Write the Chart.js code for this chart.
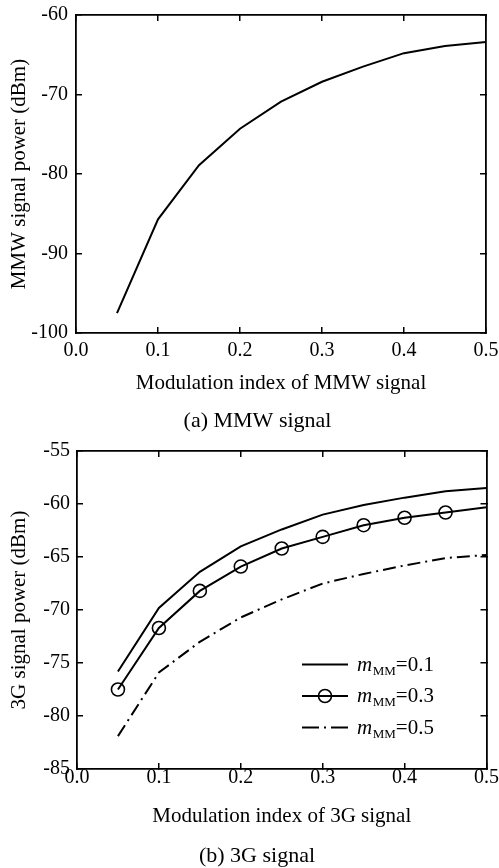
<!DOCTYPE html>
<html><head><meta charset="utf-8">
<script src="https://cdn.jsdelivr.net/npm/chart.js@4.4.1/dist/chart.umd.min.js"></script>
<style>
html,body{margin:0;padding:0;background:#fff;}
#wrap{position:relative;width:499px;height:868px;overflow:hidden;background:#fff;}
canvas{position:absolute;left:0;}
</style></head><body>
<div id="wrap">
<canvas id="c1" width="499" height="440" style="top:0px"></canvas>
<canvas id="c2" width="499" height="428" style="top:440px"></canvas>
</div>
<script>
// ---- data ----
const modIndex = [0.05, 0.10, 0.15, 0.20, 0.25, 0.30, 0.35, 0.40, 0.45, 0.50];
const mmwPower = [-97.5, -85.7, -78.9, -74.3, -70.9, -68.4, -66.5, -64.8, -63.9, -63.4];
const g3Power_m01 = [-75.8, -69.8, -66.4, -64.0, -62.4, -61.0, -60.1, -59.4, -58.8, -58.5];
const g3Power_m03 = [-77.5, -71.7, -68.2, -65.9, -64.2, -63.1, -62.0, -61.3, -60.8, -60.3];
const g3Power_m05 = [-81.9, -75.9, -73.0, -70.7, -69.0, -67.5, -66.6, -65.8, -65.1, -64.8];
const xTicks = [0, 0.1, 0.2, 0.3, 0.4, 0.5];
const yTicksMMW = [-100, -90, -80, -70, -60];
const yTicks3G = [-85, -80, -75, -70, -65, -60, -55];
const legendValues = ['0.1', '0.3', '0.5'];

const SERIF = "'Liberation Serif','Times New Roman',serif";
Chart.defaults.font.family = SERIF;
Chart.defaults.color = '#000';

function pts(ys){ return modIndex.map((x,i)=>({x:x, y:ys[i]})); }

function setTicks(arr){ return s => { s.ticks = arr.map(v=>({value:v})); }; }

function xAxis(arr, title, o){
  return {
    type:'linear', position:'bottom', min:arr[0], max:arr[arr.length-1],
    afterBuildTicks:setTicks(arr),
    afterFit:s=>{ s.height=o.height; s.paddingLeft=0; s.paddingRight=0; },
    grid:{drawOnChartArea:false, drawTicks:true, tickLength:-6, color:'#000', lineWidth:1.5},
    border:{display:true, color:'#000', width:1.8},
    ticks:{padding:o.tickPad, autoSkip:false, maxRotation:0, color:'#000',
      font:{family:SERIF, size:20, lineHeight:1.2}, callback:v=>Number(v).toFixed(1)},
    title:{display:true, text:title, color:'#000', font:{family:SERIF, size:21, lineHeight:1.2},
      padding:{top:0, bottom:o.titlePad}}
  };
}
function yAxis(arr, title, o){
  return {
    type:'linear', position:'left', min:arr[0], max:arr[arr.length-1],
    afterBuildTicks:setTicks(arr),
    afterFit:s=>{ s.width=o.width; s.paddingTop=0; s.paddingBottom=0; },
    grid:{drawOnChartArea:false, drawTicks:true, tickLength:-6, color:'#000', lineWidth:1.5},
    border:{display:true, color:'#000', width:1.8},
    ticks:{padding:o.tickPad, autoSkip:false, color:'#000',
      font:{family:SERIF, size:20, lineHeight:1.2}, callback:v=>String(v)},
    title:{display:true, text:title, color:'#000', font:{family:SERIF, size:21, lineHeight:1.2},
      padding:{top:7, bottom:0}}
  };
}
function mirror(axis, pos, arr){
  return {
    type:'linear', axis:axis, position:pos, min:arr[0], max:arr[arr.length-1],
    afterBuildTicks:setTicks(arr),
    afterFit:s=>{ if(axis==='x'){ s.height=0; } else { s.width=0; } s.paddingLeft=0; s.paddingRight=0; s.paddingTop=0; s.paddingBottom=0; },
    grid:{drawOnChartArea:false, drawTicks:true, tickLength:-6, color:'#000', lineWidth:1.5},
    border:{display:true, color:'#000', width:1.8},
    ticks:{display:false}
  };
}
function captionPlugin(text, x, y){
  return {
    id:'caption',
    afterDraw(chart){
      const ctx = chart.ctx;
      ctx.save();
      ctx.fillStyle = '#000';
      ctx.font = '22px ' + SERIF;
      ctx.textAlign = 'center';
      ctx.textBaseline = 'middle';
      ctx.fillText(text, x, y);
      ctx.restore();
    }
  };
}

// ---- chart (a) ----
new Chart(document.getElementById('c1'), {
  type:'line',
  data:{datasets:[{
    label:'MMW', data:pts(mmwPower), borderColor:'#000', borderWidth:2, pointRadius:0, tension:0, fill:false
  }]},
  options:{
    responsive:false, animation:false, events:[],
    layout:{padding:{top:15, right:13, left:0, bottom:0}},
    plugins:{legend:{display:false}, tooltip:{enabled:false}},
    scales:{
      x: xAxis(xTicks, 'Modulation index of MMW signal', {height:107, tickPad:12, titlePad:44.4}),
      y: yAxis(yTicksMMW, 'MMW signal power (dBm)', {width:76, tickPad:14}),
      x2: mirror('x', 'top', xTicks),
      y2: mirror('y', 'right', yTicksMMW)
    }
  },
  plugins:[captionPlugin('(a) MMW signal', 257.5, 421)]
});

// ---- chart (b) ----
const legendPlugin = {
  id:'mmLegend',
  afterDraw(chart){
    const ctx = chart.ctx, a = chart.chartArea;
    const x0 = a.left + 225, x1 = a.left + 271, tx = a.left + 280;
    const y0 = a.top + 213.5, dy = 31.5;
    chart.data.datasets.forEach((ds, i) => {
      const y = y0 + i*dy;
      ctx.save();
      ctx.strokeStyle = ds.borderColor;
      ctx.lineWidth = ds.borderWidth;
      ctx.setLineDash(ds.borderDash && ds.borderDash.length ? [17,5,2,5] : []);
      ctx.beginPath(); ctx.moveTo(x0, y); ctx.lineTo(x1, y); ctx.stroke();
      ctx.setLineDash([]);
      if (ds.pointStyle === 'circle') {
        ctx.lineWidth = 1.6;
        ctx.beginPath(); ctx.arc((x0+x1)/2, y, 6.5, 0, Math.PI*2); ctx.stroke();
      }
      ctx.fillStyle = '#000';
      ctx.textBaseline = 'alphabetic';
      ctx.textAlign = 'left';
      const yb = y + 6;
      ctx.font = 'italic 21px ' + SERIF;
      ctx.fillText('m', tx, yb);
      let w = ctx.measureText('m').width;
      ctx.font = '13px ' + SERIF;
      ctx.fillText('MM', tx + w + 0.5, yb + 4);
      w += ctx.measureText('MM').width + 0.5;
      ctx.font = '21px ' + SERIF;
      ctx.fillText('=' + legendValues[i], tx + w, yb);
      ctx.restore();
    });
  }
};

new Chart(document.getElementById('c2'), {
  type:'line',
  data:{datasets:[
    {label:'m=0.1', data:pts(g3Power_m01), borderColor:'#000', borderWidth:2, pointRadius:0, tension:0, fill:false},
    {label:'m=0.3', data:pts(g3Power_m03), borderColor:'#000', borderWidth:2, tension:0, fill:false,
      pointStyle:'circle', pointRadius:c=>c.dataIndex < modIndex.length-1 ? 6.5 : 0,
      pointBorderWidth:1.6, pointBorderColor:'#000', pointBackgroundColor:'rgba(0,0,0,0)'},
    {label:'m=0.5', data:pts(g3Power_m05), borderColor:'#000', borderWidth:2, borderDash:[13,5,2,5], pointRadius:0, tension:0, fill:false}
  ]},
  options:{
    responsive:false, animation:false, events:[],
    layout:{padding:{top:11, right:12.5, left:0, bottom:0}},
    plugins:{legend:{display:false}, tooltip:{enabled:false}},
    scales:{
      x: xAxis(xTicks, 'Modulation index of 3G signal', {height:99, tickPad:2.5, titlePad:39.4}),
      y: yAxis(yTicks3G, '3G signal power (dBm)', {width:77, tickPad:13}),
      x2: mirror('x', 'top', xTicks),
      y2: mirror('y', 'right', yTicks3G)
    }
  },
  plugins:[legendPlugin, captionPlugin('(b) 3G signal', 257, 416)]
});
</script>
</body></html>
